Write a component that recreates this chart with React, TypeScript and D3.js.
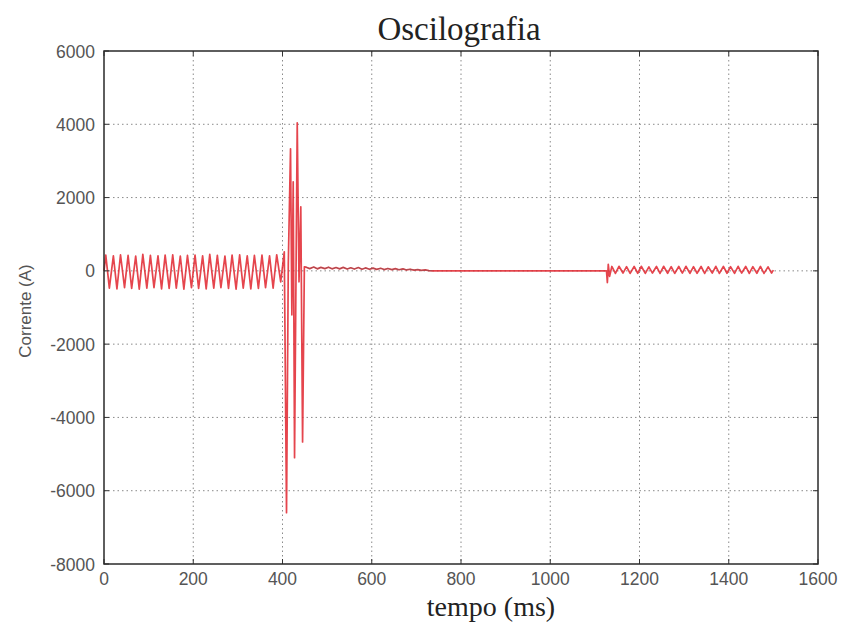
import React from 'react';
import * as d3 from 'd3';

const xTicks = [0, 200, 400, 600, 800, 1000, 1200, 1400, 1600];
const yTicks = [-8000, -6000, -4000, -2000, 0, 2000, 4000, 6000];

// pre-fault load current (peaks/troughs, ms / A)
const preT = [0, 4, 12, 21, 29, 37, 46, 54, 62, 71, 79, 87, 96, 104, 112, 121, 129, 137, 146, 154, 162, 171, 179, 187, 196, 204, 212, 221, 229, 237, 246, 254, 262, 271, 279, 287, 296, 304, 312, 321, 329, 337, 346, 354, 362, 371, 379, 387, 396, 404];
const preV = [0, 430, -470, 410, -490, 440, -460, 420, -480, 400, -500, 450, -470, 420, -460, 410, -490, 430, -480, 440, -470, 400, -500, 420, -460, 430, -480, 410, -490, 450, -470, 420, -460, 400, -480, 430, -500, 440, -470, 410, -490, 420, -480, 430, -460, 410, -470, 440, -300, 520];

// fault current
const faultT = [409, 413, 418, 421, 424, 427, 433, 437, 441, 445, 449];
const faultV = [-6600, 200, 3330, -1200, 2430, -5100, 4040, -300, 1750, -4670, 110];

// post-fault residual
const postT = [453, 461, 470, 478, 486, 495, 503, 511, 520, 528, 536, 545, 553, 561, 570, 578, 586, 595, 603, 611, 620, 628, 636, 645, 653, 661, 670, 678, 686, 695, 703, 711, 720, 728, 736];
const postV = [100, 60, 105, 55, 95, 60, 100, 55, 90, 55, 95, 50, 85, 50, 90, 45, 80, 45, 75, 40, 70, 35, 65, 35, 60, 30, 55, 25, 45, 20, 35, 15, 25, 5, 0];

// open breaker
const openT = [800, 1000, 1126];
const openV = [2, 0, 0];

// reclosing
const recT = [1128, 1130, 1133, 1138, 1146, 1154, 1163, 1171, 1179, 1188, 1196, 1204, 1213, 1221, 1229, 1238, 1246, 1254, 1263, 1271, 1279, 1288, 1296, 1304, 1313, 1321, 1329, 1338, 1346, 1354, 1363, 1371, 1379, 1388, 1396, 1404, 1413, 1421, 1429, 1438, 1446, 1454, 1463, 1471, 1479, 1488, 1496, 1500];
const recV = [-320, 180, -150, 120, -70, 125, -60, 115, -70, 120, -65, 125, -70, 110, -60, 120, -70, 125, -65, 115, -70, 120, -60, 125, -70, 115, -65, 120, -70, 110, -60, 125, -70, 120, -65, 115, -70, 125, -60, 120, -70, 115, -65, 120, -70, 110, -60, 20];

const title = 'Oscilografia';
const xLabel = 'tempo (ms)';
const yLabel = 'Corrente (A)';

type P = [number, number];
const zip = (t: number[], v: number[]): P[] => {
  const n = Math.min(t.length, v.length);
  const out: P[] = [];
  for (let i = 0; i < n; i++) out.push([t[i], v[i]]);
  return out;
};

export default function App() {
  const W = 841, H = 624;
  const L = 104, R = 818, T = 51, B = 564;
  const x = d3.scaleLinear().domain([0, 1600]).range([L, R]);
  const y = d3.scaleLinear().domain([-8000, 6000]).range([B, T]);

  const all: P[] = [
    ...zip(preT, preV),
    ...zip(faultT, faultV),
    ...zip(postT, postV),
    ...zip(openT, openV),
    ...zip(recT, recV),
  ];
  const line = d3.line<P>().x(d => x(d[0])).y(d => y(d[1]));
  const postLine = line(zip(postT, postV)) || '';
  const tickFont = '"Liberation Sans", Arial, sans-serif';
  const serif = '"Liberation Serif", "Times New Roman", serif';

  return (
    <svg width={W} height={H} style={{ position: 'absolute', left: 0, top: 0, background: '#fff' }}>
      <rect x={0} y={0} width={W} height={H} fill="#fff" />
      {/* grid */}
      <g stroke="#8a8a8a" strokeWidth={1} strokeDasharray="1.5,3">
        {xTicks.slice(1, -1).map(t => (
          <line key={'gx' + t} x1={x(t)} x2={x(t)} y1={T} y2={B} />
        ))}
        {yTicks.slice(1, -1).map(t => (
          <line key={'gy' + t} x1={L} x2={R} y1={y(t)} y2={y(t)} />
        ))}
      </g>
      {/* data */}
      <path d={line(all) || ''} fill="none" stroke="#e0252e" strokeWidth={1.7} strokeOpacity={0.85} strokeLinejoin="round" />
      <path d={postLine} fill="none" stroke="#555" strokeWidth={0.8} strokeOpacity={0.55} />
      {/* ticks */}
      <g stroke="#333" strokeWidth={1}>
        {xTicks.map(t => (
          <g key={'tx' + t}>
            <line x1={x(t)} x2={x(t)} y1={B} y2={B - 5} />
            <line x1={x(t)} x2={x(t)} y1={T} y2={T + 5} />
          </g>
        ))}
        {yTicks.map(t => (
          <g key={'ty' + t}>
            <line x1={L} x2={L + 5} y1={y(t)} y2={y(t)} />
            <line x1={R} x2={R - 5} y1={y(t)} y2={y(t)} />
          </g>
        ))}
      </g>
      {/* box */}
      <rect x={L} y={T} width={R - L} height={B - T} fill="none" stroke="#2a2a2a" strokeWidth={1.5} />
      {/* tick labels */}
      <g fill="#555" fontFamily={tickFont} fontSize={17.5}>
        {xTicks.map(t => (
          <text key={'lx' + t} x={x(t)} y={B + 21} textAnchor="middle">{t}</text>
        ))}
        {yTicks.map(t => (
          <text key={'ly' + t} x={L - 9} y={y(t) + 6.5} textAnchor="end">{t}</text>
        ))}
      </g>
      <text x={459} y={40} textAnchor="middle" fontFamily={serif} fontSize={33} fill="#222">{title}</text>
      <text x={491} y={616} textAnchor="middle" fontFamily={serif} fontSize={28} fill="#222">{xLabel}</text>
      <text transform={`translate(31,311) rotate(-90)`} textAnchor="middle" fontFamily={tickFont} fontSize={17} fill="#555">{yLabel}</text>
    </svg>
  );
}
